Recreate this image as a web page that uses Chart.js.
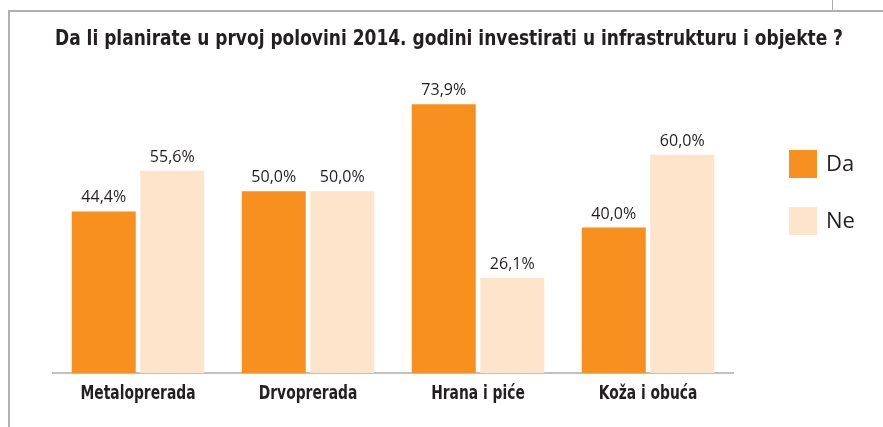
<!DOCTYPE html>
<html>
<head>
<meta charset="utf-8">
<script src="https://cdn.jsdelivr.net/npm/chart.js@4/dist/chart.umd.min.js"></script>
<style>
    html, body { margin: 0; padding: 0; background: #fff; }
    body { width: 883px; height: 427px; position: relative; overflow: hidden; }
    .frame { position: absolute; left: 8px; top: 10px; width: 873px; height: 415px;
             border-top: 2px solid #b0b0b0; border-left: 2px solid #b0b0b0; }
    .frame-tick { position: absolute; left: 832px; top: 0; width: 1px; height: 10px; background: #b0b0b0; }
    .chart-box { position: absolute; left: 16px; top: 0; width: 867px; height: 427px; }
</style>
</head>
<body>
<div class="frame"></div>
<div class="frame-tick"></div>
<div class="chart-box"><canvas id="investChart"></canvas></div>
<script>
// podaci
const naslov = 'Da li planirate u prvoj polovini 2014. godini investirati u infrastrukturu i objekte ?';
const kategorije = ['Metaloprerada', 'Drvoprerada', 'Hrana i piće', 'Koža i obuća'];
const odgovorDa = [44.4, 50.0, 73.9, 40.0];
const odgovorNe = [55.6, 50.0, 26.1, 60.0];

const narandzasta = '#f7901e';
const breskva = '#fde4ca';
const tekst = '#231f20';

const uskiFont = '"Liberation Sans Narrow", "DejaVu Sans Condensed", "Liberation Sans", sans-serif';
const obicanFont = '"Open Sans", "Noto Sans", sans-serif';

// uski bold tekst: sabija se vodoravno na zadanu sirinu
function uskiTekst(ctx, txt, x, y, size, sirina) {
    ctx.font = 'bold ' + size + 'px ' + uskiFont;
    const w = ctx.measureText(txt).width;
    ctx.save();
    ctx.translate(x, y);
    ctx.scale(sirina / w, 1);
    ctx.fillText(txt, 0, 0);
    ctx.restore();
}

// naslov i nazivi kategorija
const tekstoviPlugin = {
    id: 'tekstovi',
    afterDraw(chart) {
        const ctx = chart.ctx;
        ctx.save();
        ctx.fillStyle = tekst;
        ctx.textAlign = 'center';
        ctx.textBaseline = 'alphabetic';
        uskiTekst(ctx, naslov, 433, 45, 21, 788);

        ctx.font = 'bold 20px ' + uskiFont;
        const faktor = 115 / ctx.measureText(kategorije[0]).width;
        const xs = chart.scales.x;
        kategorije.forEach((k, i) => {
            ctx.font = 'bold 20px ' + uskiFont;
            const w = ctx.measureText(k).width;
            uskiTekst(ctx, k, xs.getPixelForTick(i), chart.chartArea.bottom + 26, 20, w * faktor);
        });
        ctx.restore();
    }
};

// procenti iznad stubova
const vrijednostiPlugin = {
    id: 'vrijednosti',
    afterDatasetsDraw(chart) {
        const ctx = chart.ctx;
        ctx.save();
        ctx.font = '16px ' + obicanFont;
        ctx.fillStyle = tekst;
        ctx.textAlign = 'center';
        ctx.textBaseline = 'alphabetic';
        chart.data.datasets.forEach((ds, i) => {
            chart.getDatasetMeta(i).data.forEach((bar, j) => {
                const txt = ds.data[j].toFixed(1).replace('.', ',') + '%';
                ctx.fillText(txt, bar.x, bar.y - 9);
            });
        });
        ctx.restore();
    }
};

// legenda desno
const legendaPlugin = {
    id: 'legenda',
    afterDraw(chart) {
        const ctx = chart.ctx;
        ctx.save();
        ctx.font = '22px ' + obicanFont;
        ctx.textBaseline = 'middle';
        chart.data.datasets.forEach((ds, i) => {
            const y = 150 + i * 57;
            ctx.fillStyle = ds.backgroundColor;
            ctx.fillRect(773, y, 28, 28);
            ctx.fillStyle = tekst;
            ctx.fillText(ds.label, 810, y + 15);
        });
        ctx.restore();
    }
};

const ctx = document.getElementById('investChart').getContext('2d');
const investChart = new Chart(ctx, {
    type: 'bar',
    data: {
        labels: kategorije,
        datasets: [
            {
                label: 'Da',
                data: odgovorDa,
                backgroundColor: narandzasta,
                barPercentage: 0.934,
                categoryPercentage: 0.806
            },
            {
                label: 'Ne',
                data: odgovorNe,
                backgroundColor: breskva,
                barPercentage: 0.934,
                categoryPercentage: 0.806
            }
        ]
    },
    options: {
        responsive: true,
        maintainAspectRatio: false,
        animation: false,
        layout: {
            padding: { top: 82, left: 37, right: 150, bottom: 54 }
        },
        scales: {
            x: {
                grid: { display: false, drawTicks: false },
                border: { display: true, color: '#c0c0c0', width: 2 },
                ticks: { display: false }
            },
            y: {
                display: false,
                min: 0,
                max: 80
            }
        },
        plugins: {
            legend: { display: false },
            tooltip: { enabled: false },
            title: { display: false }
        }
    },
    plugins: [vrijednostiPlugin, legendaPlugin, tekstoviPlugin]
});
</script>
</body>
</html>
